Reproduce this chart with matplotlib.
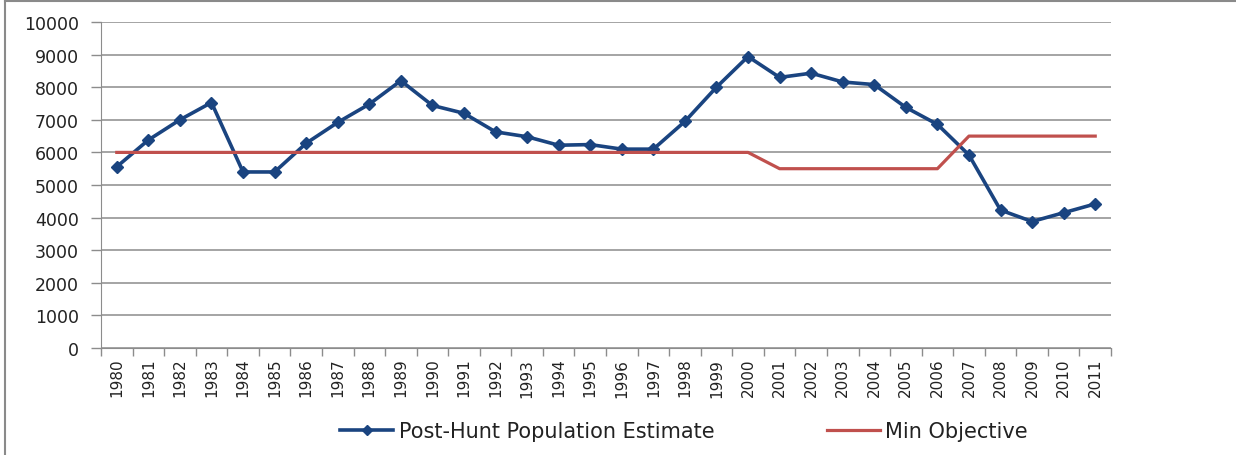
import matplotlib
matplotlib.use("Agg")
import matplotlib.pyplot as plt
from matplotlib.lines import Line2D
import numpy as np

# data
years = [str(y) for y in range(1980, 2012)]
post_hunt = [5560, 6380, 7000, 7530, 5400, 5400, 6280, 6920, 7480, 8200,
             7440, 7200, 6630, 6480, 6220, 6240, 6100, 6100, 6950, 8000,
             8940, 8300, 8430, 8160, 8080, 7380, 6860, 5920, 4230, 3880,
             4150, 4420]
min_objective = [6000] * 21 + [5500] * 6 + [6500] * 5
yticks = list(range(0, 10001, 1000))

blue = "#1A4480"
red = "#C0504D"
grid_c = "#8C8C8C"

plt.rcParams['font.family'] = ['DejaVu Sans']

fig = plt.figure(figsize=(12.36, 4.56), dpi=100)
ax = fig.add_axes([101 / 1236, 1 - 349 / 456, 1010 / 1236, 326 / 456])

x = np.arange(len(years))
ax.plot(x, post_hunt, color=blue, lw=2.6, marker="D", ms=6.5,
        label="Post-Hunt Population Estimate")
ax.plot(x, min_objective, color=red, lw=2.3, label="Min Objective")

ax.set_xlim(-0.5, len(years) - 0.5)
ax.set_ylim(0, 10000)
ax.set_yticks(yticks)
ax.set_yticklabels([str(v) for v in yticks], fontsize=12.5, color="#222222")
ax.yaxis.grid(True, color=grid_c, lw=1.1)
ax.set_axisbelow(True)

# category boundaries get the ticks, labels sit between them
ax.set_xticks(np.arange(-0.5, len(years), 1.0))
ax.set_xticklabels([])
ax.set_xticks(x, minor=True)
ax.set_xticklabels(years, minor=True, rotation=90, fontsize=11, color="#222222")
ax.tick_params(axis="x", which="major", length=6, color=grid_c, width=1)
ax.tick_params(axis="x", which="minor", length=0, pad=7)
ax.tick_params(axis="y", length=7, color=grid_c, width=1, pad=9)

for s in ["top", "right"]:
    ax.spines[s].set_visible(False)
ax.spines["left"].set_color(grid_c)
ax.spines["bottom"].set_color(grid_c)

# legend along the bottom
fig.legend(handles=ax.get_lines(), loc="center", ncol=2,
           bbox_to_anchor=(684 / 1236, 1 - 432 / 456), frameon=False,
           fontsize=15, handlelength=2.55, columnspacing=5.4,
           handletextpad=0.25, markerscale=0.85, labelcolor="#222222")

# outer chart frame (left and top edges visible)
fig.add_artist(Line2D([5 / 1236, 5 / 1236], [0, 1 - 2 / 456],
                      transform=fig.transFigure, color="#8A8A8A", lw=1.5))
fig.add_artist(Line2D([5 / 1236, 1], [1 - 2 / 456, 1 - 2 / 456],
                      transform=fig.transFigure, color="#8A8A8A", lw=1.5))

fig.savefig("out.png", dpi=100)
